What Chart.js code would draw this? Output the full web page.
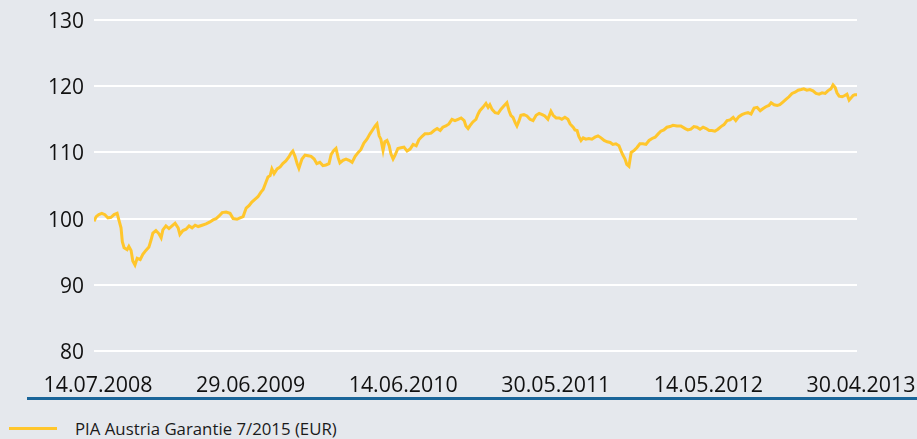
<!DOCTYPE html>
<html>
<head>
<meta charset="utf-8">
<script src="https://cdn.jsdelivr.net/npm/chart.js@4"></script>
<style>
  body { margin: 0; background: #e5e8ed; font-family: "Open Sans", sans-serif; }
  #wrap { position: relative; width: 917px; height: 439px; overflow: hidden; }
  canvas { position: absolute; left: 0; top: 0; }
  #rule { position: absolute; left: 27px; top: 397px; width: 890px; height: 3px; background: #1a6599; }
  #leg { position: absolute; left: 9px; top: 418px; height: 20px; display: flex; align-items: center; font-size: 16.8px; color: #1a1a1a; }
  #leg .sw { display: inline-block; width: 48px; height: 3px; background: #ffc62c; margin-right: 18px; }
</style>
</head>
<body>
<div id="wrap">
  <canvas id="chart" width="917" height="395"></canvas>
  <div id="rule"></div>
  <div id="leg"><span class="sw"></span><span id="legtxt"></span></div>
</div>
<script>
  const seriesName = "PIA Austria Garantie 7/2015 (EUR)";

  // x axis: days since 14.07.2008
  const tickDays = [0, 350, 700, 1050, 1400, 1750];
  const tickLabels = ["14.07.2008", "29.06.2009", "14.06.2010", "30.05.2011", "14.05.2012", "30.04.2013"];

  const dayOffsets = [
    0, 5, 11, 18, 25, 32, 39, 46, 53, 57, 62, 65, 69, 76, 80, 85, 89, 94, 99, 106,
    112, 119, 126, 131, 135, 142, 149, 154, 158, 165, 172, 179, 186, 193, 197, 204, 211, 218, 225, 232,
    239, 248, 257, 266, 273, 280, 287, 294, 303, 312, 319, 328, 335, 342, 349, 356, 362, 369, 376, 383,
    388, 395, 399, 404, 408, 413, 420, 427, 433, 440, 447, 452, 456, 461, 466, 470, 477, 484, 491, 498,
    505, 511, 518, 525, 532, 539, 544, 550, 555, 560, 564, 571, 578, 585, 592, 599, 606, 612, 619, 626,
    633, 640, 645, 649, 654, 658, 663, 667, 672, 677, 681, 686, 690, 697, 704, 711, 718, 725, 732, 739,
    745, 752, 759, 766, 773, 780, 787, 794, 800, 807, 814, 821, 828, 835, 842, 849, 853, 858, 862, 869,
    876, 881, 885, 892, 899, 904, 908, 913, 920, 927, 933, 940, 947, 952, 956, 961, 966, 970, 975, 979,
    986, 993, 1000, 1007, 1014, 1021, 1028, 1034, 1041, 1048, 1053, 1060, 1067, 1073, 1080, 1087, 1092, 1099, 1103, 1108,
    1112, 1117, 1122, 1128, 1135, 1142, 1149, 1156, 1163, 1170, 1177, 1184, 1190, 1197, 1204, 1209, 1213, 1218, 1222, 1227,
    1232, 1239, 1245, 1252, 1259, 1266, 1273, 1280, 1287, 1294, 1300, 1307, 1314, 1321, 1328, 1337, 1346, 1356, 1362, 1369,
    1376, 1383, 1390, 1397, 1404, 1411, 1417, 1424, 1431, 1438, 1445, 1452, 1459, 1466, 1472, 1479, 1486, 1493, 1500, 1507,
    1514, 1521, 1528, 1534, 1541, 1548, 1553, 1560, 1567, 1573, 1580, 1587, 1594, 1601, 1608, 1615, 1622, 1628, 1635, 1642,
    1649, 1656, 1663, 1670, 1677, 1683, 1690, 1695, 1700, 1704, 1709, 1716, 1722, 1727, 1732, 1736, 1741, 1745, 1750
  ];

  const indexValues = [
    99.6, 100.3, 100.6, 100.8, 100.6, 100.1, 100.2, 100.6, 100.8, 99.8, 98.6, 96.5, 95.6, 95.3, 95.8, 95.2, 93.6, 93.0, 94.0, 93.8,
    94.6, 95.2, 95.7, 96.8, 97.8, 98.2, 97.7, 97.1, 98.3, 98.9, 98.5, 98.9, 99.3, 98.6, 97.6, 98.2, 98.4, 98.9, 98.6, 99.0,
    98.8, 99.0, 99.2, 99.5, 99.8, 100.0, 100.4, 100.9, 101.0, 100.8, 100.0, 99.9, 100.1, 100.3, 101.6, 102.0, 102.5, 102.9, 103.3, 104.0,
    104.4, 105.6, 106.3, 106.5, 107.5, 106.8, 107.5, 107.8, 108.3, 108.7, 109.3, 109.9, 110.2, 109.4, 108.3, 107.6, 109.0, 109.6, 109.5, 109.4,
    109.0, 108.3, 108.5, 108.0, 108.1, 108.3, 109.7, 110.3, 110.6, 109.2, 108.4, 108.8, 109.0, 108.8, 108.5, 109.4, 110.0, 110.4, 111.4, 112.0,
    112.8, 113.5, 114.0, 114.3, 112.5, 112.0, 110.3, 111.6, 111.8, 111.0, 109.8, 109.0, 109.5, 110.6, 110.7, 110.8, 110.2, 110.5, 111.2, 111.0,
    111.9, 112.4, 112.8, 112.8, 112.9, 113.3, 113.6, 113.3, 113.8, 114.0, 114.3, 115.0, 114.8, 115.0, 115.2, 114.8, 114.0, 113.6, 114.0, 114.6,
    115.0, 115.8, 116.3, 116.8, 117.4, 116.8, 117.2, 116.5, 116.0, 115.9, 116.5, 117.0, 117.5, 116.3, 115.6, 115.3, 114.5, 114.0, 114.8, 115.6,
    115.7, 115.5, 115.0, 114.8, 115.6, 115.9, 115.7, 115.5, 115.0, 116.2, 115.6, 115.2, 115.2, 115.0, 115.3, 115.0, 114.3, 113.8, 113.4, 113.3,
    112.4, 111.8, 112.2, 112.0, 112.1, 112.0, 112.3, 112.5, 112.2, 111.8, 111.6, 111.5, 111.2, 111.3, 111.0, 110.2, 109.6, 109.0, 108.2, 107.9,
    110.0, 110.3, 110.7, 111.3, 111.3, 111.2, 111.8, 112.1, 112.3, 112.8, 113.2, 113.4, 113.8, 113.9, 114.1, 114.0, 114.0, 113.6, 113.4, 113.5,
    113.9, 113.8, 113.5, 113.8, 113.6, 113.3, 113.3, 113.2, 113.5, 113.9, 114.2, 114.8, 114.9, 115.3, 114.8, 115.4, 115.7, 115.9, 116.0, 115.8,
    116.7, 116.8, 116.3, 116.6, 116.9, 117.1, 117.5, 117.2, 117.1, 117.2, 117.6, 118.0, 118.4, 118.9, 119.1, 119.4, 119.5, 119.6, 119.4, 119.5,
    119.3, 118.9, 118.8, 119.0, 118.9, 119.3, 119.6, 120.2, 119.8, 119.0, 118.5, 118.4, 118.6, 118.8, 117.9, 118.2, 118.6, 118.7, 118.7
  ];

  const yTicks = [80, 90, 100, 110, 120, 130];

  document.getElementById("legtxt").textContent = seriesName;

  new Chart(document.getElementById("chart"), {
    type: "line",
    data: {
      datasets: [{
        label: seriesName,
        data: dayOffsets.map((d, i) => ({ x: d, y: indexValues[i] })),
        borderColor: "#ffc62c",
        borderWidth: 3,
        pointRadius: 0,
        tension: 0,
        fill: false
      }]
    },
    options: {
      responsive: false,
      animation: false,
      devicePixelRatio: 1,
      layout: { padding: { left: 0, right: 60, top: 20, bottom: 2 } },
      plugins: {
        legend: { display: false },
        tooltip: { enabled: false }
      },
      scales: {
        x: {
          type: "linear",
          min: tickDays[0],
          max: tickDays[tickDays.length - 1],
          afterBuildTicks: (s) => { s.ticks = tickDays.map(v => ({ value: v })); },
          afterFit: (s) => { s.height = 42; s.paddingLeft = 0; s.paddingRight = 0; },
          grid: { display: false },
          border: { display: false },
          ticks: {
            padding: 14,
            labelOffset: 4,
            maxRotation: 0,
            autoSkip: false,
            font: { family: "Open Sans", size: 21.4 },
            color: "#111",
            callback: (v, i) => tickLabels[i]
          }
        },
        y: {
          min: 80,
          max: 130,
          afterBuildTicks: (s) => { s.ticks = yTicks.map(v => ({ value: v })); },
          afterFit: (s) => { s.width = 94; s.paddingTop = 0; s.paddingBottom = 0; },
          grid: { color: "#ffffff", lineWidth: 2, drawTicks: false },
          border: { display: false },
          ticks: {
            padding: 10,
            labelOffset: 2,
            font: { family: "Open Sans", size: 21 },
            color: "#111"
          }
        }
      }
    }
  });
</script>
</body>
</html>
